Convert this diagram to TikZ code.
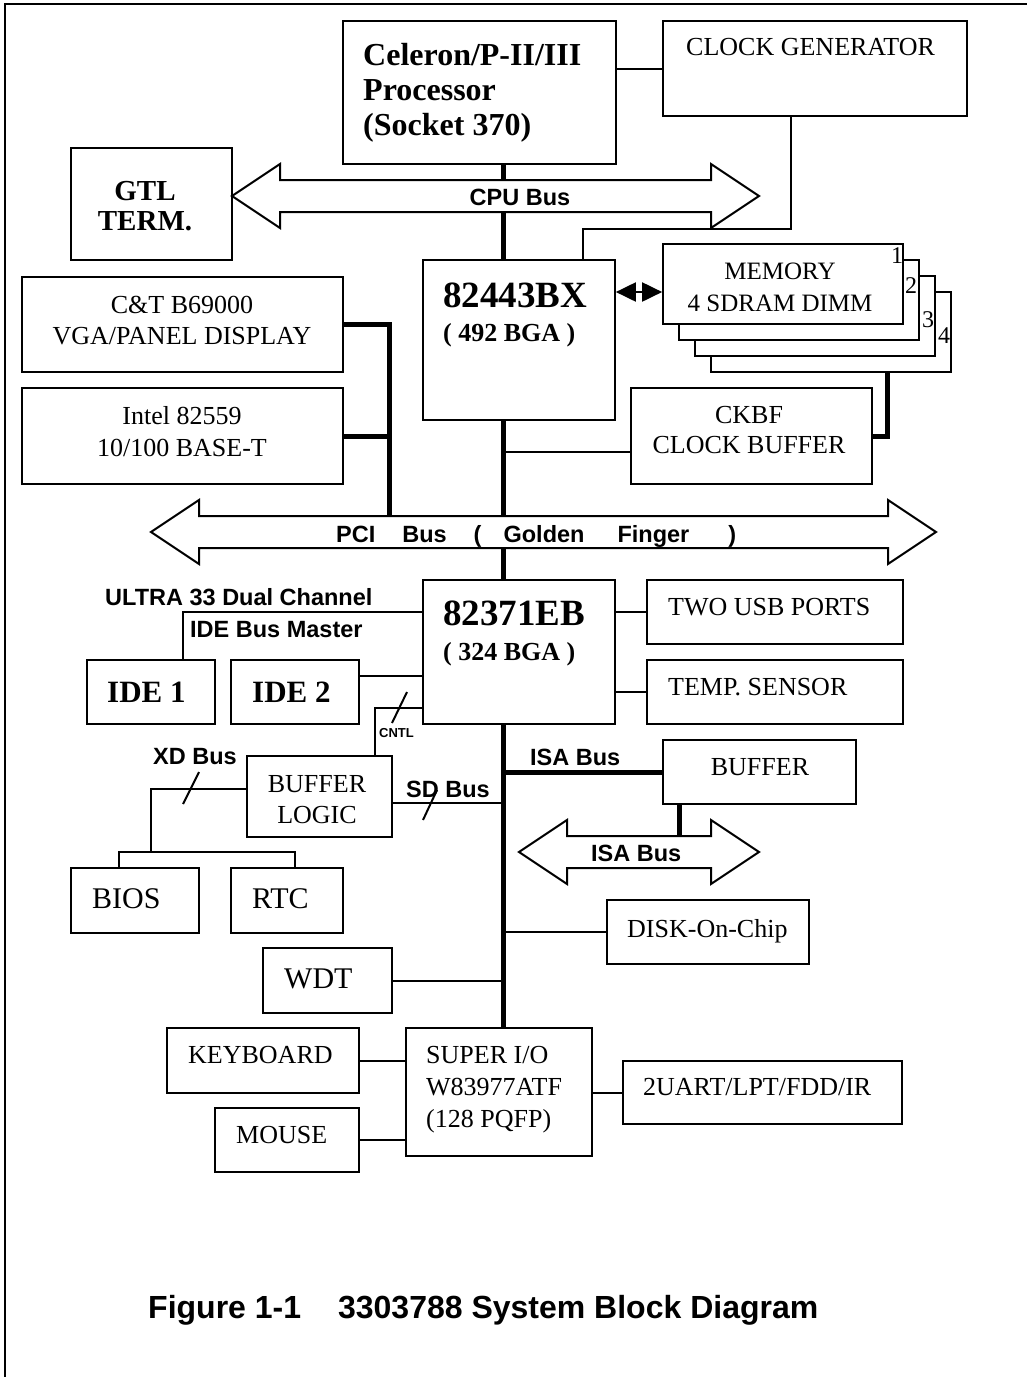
\documentclass[tikz,border=0pt]{standalone}
\usepackage{fontspec}
\setmainfont{Liberation Serif}
\newfontfamily\arialfont{Liberation Sans}
\usetikzlibrary{positioning, arrows.meta}
\tikzset{
	box/.style={draw, line width=1.7pt, fill=white, inner sep=0pt},
	link/.style={line width=2pt},
	busline/.style={line width=5pt},
	memlink/.style={line width=2pt, {Triangle[length=20pt,width=19pt]}-{Triangle[length=20pt,width=19pt]}},
	rmtext/.style 2 args={inner sep=0pt, anchor=base west, font=\fontsize{#1}{#2}\selectfont},
	bftext/.style 2 args={inner sep=0pt, anchor=base west, font=\fontsize{#1}{#2}\selectfont\bfseries},
	sftext/.style={inner sep=0pt, anchor=base west, font=\arialfont\bfseries\fontsize{#1}{#1}\selectfont}
}
% wide hollow bus arrow: left tip x, right tip x, y
\newcommand{\busarrow}[3]{%
\draw[link, fill=white] (#1,#3) -- (#1+48,#3-32) -- (#1+48,#3-16) -- (#2-48,#3-16) -- (#2-48,#3-32)
  -- (#2,#3) -- (#2-48,#3+32) -- (#2-48,#3+16) -- (#1+48,#3+16) -- (#1+48,#3+32) -- cycle;}

\begin{document}
\begin{tikzpicture}[x=1pt, y=-1pt]
\useasboundingbox (0,0) rectangle (1027,1377);
\draw[link] (5,1377) -- (5,4) -- (1027,4);

% blocks
\node[box, minimum width=273, minimum height=143] (cpu) at (479.5,92.5) {};
\node[box, minimum width=304, minimum height=95] (clk) at (815,68.5) {};
\node[box, minimum width=161, minimum height=112] (gtl) at (151.5,204) {};
\node[box, minimum width=192, minimum height=160] (nb) at (519,340) {};
\node[box, minimum width=240, minimum height=80] (mem4) at (831,332) {};
\node[box, minimum width=240, minimum height=80] (mem3) at (815,316) {};
\node[box, minimum width=240, minimum height=80] (mem2) at (799,300) {};
\node[box, minimum width=240, minimum height=80] (mem1) at (783,284) {};
\node[box, minimum width=241, minimum height=96] (ckbf) at (751.5,436) {};
\node[box, minimum width=321, minimum height=95] (ctvga) at (182.5,324.5) {};
\node[box, minimum width=321, minimum height=96] (lan) at (182.5,436) {};
\node[box, minimum width=192, minimum height=144] (sb) at (519,652) {};
\node[box, minimum width=256, minimum height=64] (usb) at (775,612) {};
\node[box, minimum width=256, minimum height=64] (temp) at (775,692) {};
\node[box, minimum width=128, minimum height=64] (ide1) at (151,692) {};
\node[box, minimum width=128, minimum height=64] (ide2) at (295,692) {};
\node[box, minimum width=145, minimum height=81] (buflog) at (319.5,796.5) {};
\node[box, minimum width=128, minimum height=65] (bios) at (135,900.5) {};
\node[box, minimum width=112, minimum height=65] (rtc) at (287,900.5) {};
\node[box, minimum width=129, minimum height=65] (wdt) at (327.5,980.5) {};
\node[box, minimum width=192, minimum height=65] (kbd) at (263,1060.5) {};
\node[box, minimum width=144, minimum height=64] (mouse) at (287,1140) {};
\node[box, minimum width=186, minimum height=128] (sio) at (499,1092) {};
\node[box, minimum width=279, minimum height=63] (uart) at (762.5,1092.5) {};
\node[box, minimum width=202, minimum height=64] (doc) at (708,932) {};
\node[box, minimum width=193, minimum height=64] (isabuf) at (759.5,772) {};

% block texts
\node[bftext={32}{35}] (cputext) at (363,65) {\begin{tabular}[t]{@{}l@{}}Celeron/P-II/III\\ Processor\\ (Socket 370)\end{tabular}};
\node[rmtext={26}{31}] (clktext) at (686,55) {CLOCK GENERATOR};
\node[bftext={29}{30}, anchor=base] (gtltext) at (145,200) {\begin{tabular}[t]{@{}c@{}}GTL\\ TERM.\end{tabular}};
\node[bftext={37}{40}] (nbname) at (443,307) {82443BX};
\node[bftext={26}{30}] (nbpkg) at (443,341) {( 492 BGA )};
\node[rmtext={25}{32}, anchor=base] (memtext) at (780,279) {\begin{tabular}[t]{@{}c@{}}MEMORY\\ 4 SDRAM DIMM\end{tabular}};
\node[rmtext={24}{24}, anchor=base] (memone) at (897,263) {1};
\node[rmtext={24}{24}, anchor=base] (memtwo) at (911,293) {2};
\node[rmtext={24}{24}, anchor=base] (memthree) at (928,327) {3};
\node[rmtext={24}{24}, anchor=base] (memfour) at (944,343) {4};
\node[rmtext={26}{30}, anchor=base] (ckbftext) at (749,423) {\begin{tabular}[t]{@{}c@{}}CKBF\\ CLOCK BUFFER\end{tabular}};
\node[rmtext={26}{31}, anchor=base] (ctvgatext) at (182,313) {\begin{tabular}[t]{@{}c@{}}C\&T B69000\\ VGA/PANEL DISPLAY\end{tabular}};
\node[rmtext={26}{32}, anchor=base] (lantext) at (182,424) {\begin{tabular}[t]{@{}c@{}}Intel 82559\\ 10/100 BASE-T\end{tabular}};
\node[bftext={37}{40}] (sbname) at (443,625) {82371EB};
\node[bftext={26}{30}] (sbpkg) at (443,660) {( 324 BGA )};
\node[rmtext={26}{31}] (usbtext) at (668,615) {TWO USB PORTS};
\node[rmtext={26}{31}] (temptext) at (668,695) {TEMP. SENSOR};
\node[bftext={31}{34}] (ide1text) at (107,702) {IDE 1};
\node[bftext={31}{34}] (ide2text) at (252,702) {IDE 2};
\node[rmtext={26}{31}, anchor=base] (buflogtext) at (317,792) {\begin{tabular}[t]{@{}c@{}}BUFFER\\ LOGIC\end{tabular}};
\node[rmtext={30}{34}] (biostext) at (92,908) {BIOS};
\node[rmtext={30}{34}] (rtctext) at (252,908) {RTC};
\node[rmtext={30}{34}] (wdttext) at (284,988) {WDT};
\node[rmtext={26}{31}] (kbdtext) at (188,1063) {KEYBOARD};
\node[rmtext={26}{31}] (mousetext) at (236,1143) {MOUSE};
\node[rmtext={26}{32}] (siotext) at (426,1063) {\begin{tabular}[t]{@{}l@{}}SUPER I/O\\ W83977ATF\\ (128 PQFP)\end{tabular}};
\node[rmtext={26}{31}] (uarttext) at (643,1095) {2UART/LPT/FDD/IR};
\node[rmtext={26}{31}] (doctext) at (627,937) {DISK-On-Chip};
\node[rmtext={26}{31}, anchor=base] (isabuftext) at (760,775) {BUFFER};

% connections
\coordinate (busx) at (503,0);
\coordinate (pcidrop) at (389,532);
\coordinate (xdjoin) at (151,852);
\coordinate (memport) at ([yshift=-8]mem1.west);
\coordinate (ckbfport) at ([yshift=-16]ckbf.west);
\coordinate (ide2port) at ([yshift=16]ide2.east);
\coordinate (sdport) at ([yshift=-6]buflog.east);
\coordinate (xdport) at ([yshift=8]buflog.west);

\draw[link] (clk.west) -- (clk.west -| cpu.east);
\draw[link] ([xshift=-24]clk.south) -- ++(0,112) -| ([xshift=64]nb.north);
\draw[busline] (cpu.south -| busx) -- (nb.north -| busx);
\draw[busline] (nb.south -| busx) -- (sb.north -| busx);
\draw[busline] (sb.south -| busx) -- (sio.north -| busx);
\draw[memlink] (memport) -- (memport -| nb.east);
\draw[busline] ([xshift=56]mem4.south) |- (ckbf.east);
\draw[link] (ckbfport) -- (ckbfport -| busx);
\draw[busline] (ctvga.east) -| (pcidrop);
\draw[busline] (lan.east) -- (lan.east -| pcidrop);
\draw[link] (usb.west) -- (usb.west -| sb.east);
\draw[link] (temp.west) -- (temp.west -| sb.east);
\draw[link] (sb.west |- usb.west) -| ([xshift=32]ide1.north);
\draw[link] (ide2port) -- (ide2port -| sb.west);
\draw[link] ([yshift=-56]sb.west) -| ([xshift=55]buflog.north);
\draw[link] (407,692) -- (392,723);
\draw[link] (sdport) -- (sdport -| busx);
\draw[link] (437,790) -- (423,820);
\draw[link] (xdport) -| (xdjoin);
\draw[link] ([xshift=-16]bios.north) |- (xdjoin) -| ([xshift=8]rtc.north);
\draw[link] (199,772) -- (183,804);
\draw[busline] (isabuf.west) -- (isabuf.west -| busx);
\draw[busline] ([xshift=-80]isabuf.south) -- ++(0,40);
\draw[link] (doc.west) -- (doc.west -| busx);
\draw[link] (wdt.east) -- (wdt.east -| busx);
\draw[link] (kbd.east) -- (kbd.east -| sio.west);
\draw[link] (mouse.east) -- (mouse.east -| sio.west);
\draw[link] (uart.west) -- (uart.west -| sio.east);

% buses
\busarrow{232}{759}{196}
\busarrow{151}{936}{532}
\busarrow{519}{759}{852}

% bus labels
\node[sftext=23.5, anchor=base] (cpubus) at (520,205) {CPU Bus};
\node[sftext=23.5] (pcibus) at (336,542) {PCI\hspace{27pt}Bus\hspace{27pt}(\hspace{22pt}Golden\hspace{33pt}Finger\hspace{39pt})};
\node[sftext=23.5] (ultra) at (105,605) {ULTRA 33 Dual Channel};
\node[sftext=23.5] (idemaster) at (190,637) {IDE Bus Master};
\node[sftext=13] (cntl) at (379,737) {CNTL};
\node[sftext=23.5] (xdbus) at (153,764) {XD Bus};
\node[sftext=23.5] (sdbus) at (406,797) {SD Bus};
\node[sftext=23.5] (isabus) at (530,765) {ISA Bus};
\node[sftext=23.5] (isawide) at (591,861) {ISA Bus};
\node[sftext=32] (title) at (148,1318) {Figure 1-1\hspace{37pt}3303788 System Block Diagram};
\end{tikzpicture}
\end{document}
